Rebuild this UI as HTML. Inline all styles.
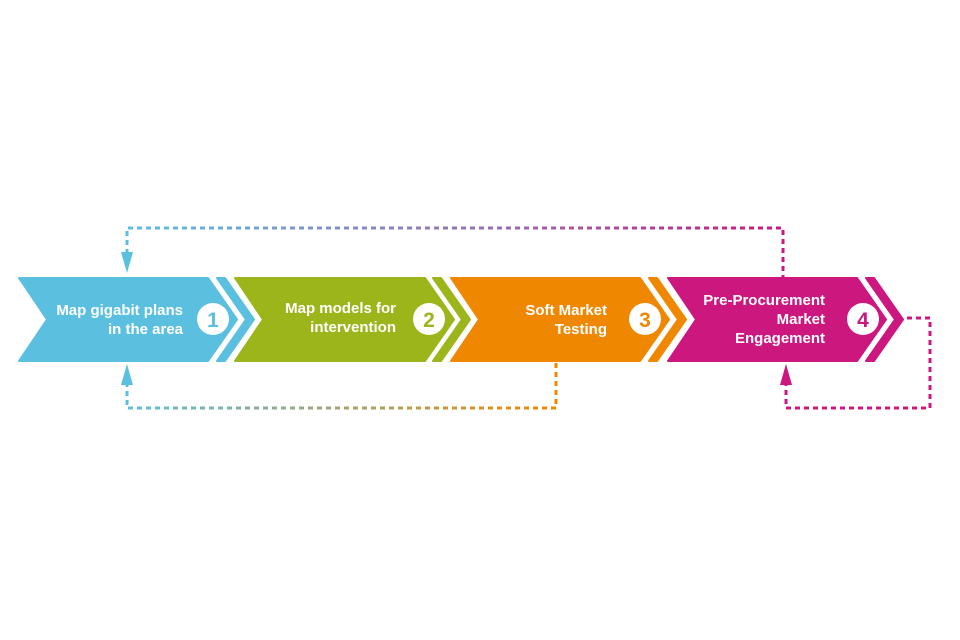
<!DOCTYPE html>
<html><head><meta charset="utf-8"><style>
html,body{margin:0;padding:0;background:#fff;width:960px;height:640px;overflow:hidden}
svg{display:block}
text{font-family:"Liberation Sans",sans-serif;font-weight:bold;fill:#fff}
</style></head><body>
<svg width="960" height="640" viewBox="0 0 960 640">
<defs>
<linearGradient id="gt" gradientUnits="userSpaceOnUse" x1="127" y1="0" x2="783" y2="0">
<stop offset="0" stop-color="#5bc0e0"/><stop offset="0.55" stop-color="#9a6fb0"/><stop offset="1" stop-color="#cc177f"/></linearGradient>
<linearGradient id="gb" gradientUnits="userSpaceOnUse" x1="127" y1="0" x2="556" y2="0">
<stop offset="0" stop-color="#5bc0e0"/><stop offset="1" stop-color="#f08700"/></linearGradient>
</defs>
<g stroke-linejoin="round" stroke-width="2">
<path d="M19,278 L208,278 L237,319.5 L208,361 L19,361 L47,319.5 Z" fill="#5bc0e0" stroke="#5bc0e0"/>
<path d="M217,278 L225,278 L254,319.5 L225,361 L217,361 L246,319.5 Z" fill="#5bc0e0" stroke="#5bc0e0"/>
<path d="M235,278 L425,278 L454,319.5 L425,361 L235,361 L263,319.5 Z" fill="#9cb51a" stroke="#9cb51a"/>
<path d="M433,278 L441,278 L470,319.5 L441,361 L433,361 L462,319.5 Z" fill="#9cb51a" stroke="#9cb51a"/>
<path d="M451,278 L640,278 L669,319.5 L640,361 L451,361 L479,319.5 Z" fill="#f08700" stroke="#f08700"/>
<path d="M649,278 L657,278 L686,319.5 L657,361 L649,361 L678,319.5 Z" fill="#f08700" stroke="#f08700"/>
<path d="M668,278 L857,278 L886,319.5 L857,361 L668,361 L696,319.5 Z" fill="#cc177f" stroke="#cc177f"/>
<path d="M866,278 L874,278 L903,319.5 L874,361 L866,361 L895,319.5 Z" fill="#cc177f" stroke="#cc177f"/>
</g>
<circle cx="213" cy="319" r="16" fill="#fff"/>
<circle cx="429" cy="319" r="16" fill="#fff"/>
<circle cx="645" cy="319" r="16" fill="#fff"/>
<circle cx="863" cy="319" r="16" fill="#fff"/>
<text x="213" y="327" text-anchor="middle" font-size="21" style="fill:#5bc0e0">1</text>
<text x="429" y="327" text-anchor="middle" font-size="21" style="fill:#9cb51a">2</text>
<text x="645" y="327" text-anchor="middle" font-size="21" style="fill:#f08700">3</text>
<text x="863" y="327" text-anchor="middle" font-size="21" style="fill:#cc177f">4</text>
<g font-size="15" text-anchor="end">
<text x="183" y="315">Map gigabit plans</text>
<text x="183" y="334">in the area</text>
<text x="396" y="313">Map models for</text>
<text x="396" y="332">intervention</text>
<text x="607" y="315">Soft Market</text>
<text x="607" y="334">Testing</text>
<text x="825" y="305">Pre-Procurement</text>
<text x="825" y="324">Market</text>
<text x="825" y="343">Engagement</text>
</g>
<g fill="none" stroke-width="3" stroke-dasharray="5 4">
<path d="M127,254 L127,228 L783,228 L783,277" stroke="url(#gt)"/>
<path d="M556,363 L556,408 L127,408 L127,384" stroke="url(#gb)"/>
<path d="M907,318 L930,318 L930,408 L786,408 L786,384" stroke="#cc177f"/>
</g>
<path d="M121,252 L133,252 L127,273 Z" fill="#5bc0e0"/>
<path d="M121,385 L133,385 L127,364 Z" fill="#5bc0e0"/>
<path d="M780,385 L792,385 L786,364 Z" fill="#cc177f"/>
</svg>
</body></html>
